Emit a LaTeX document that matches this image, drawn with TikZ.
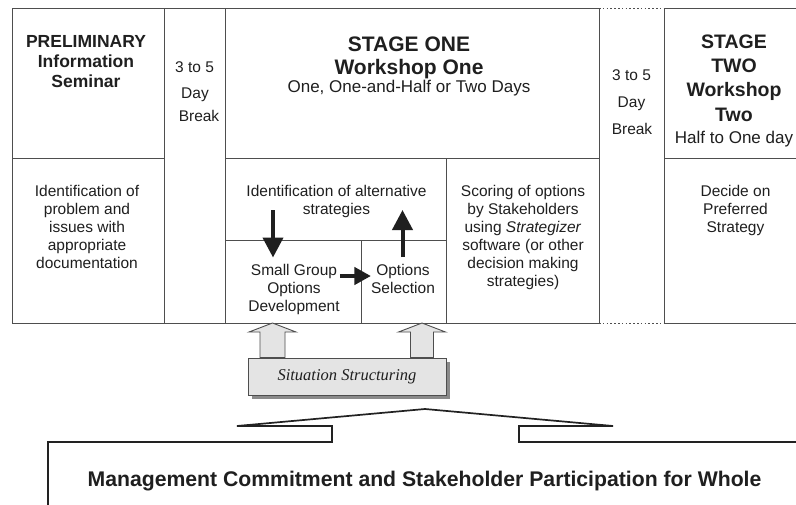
\documentclass[tikz,border=0pt]{standalone}
\usepackage{fontspec}
\setmainfont{Liberation Sans}
\newfontfamily\capfont{Liberation Serif}
\usetikzlibrary{arrows.meta,calc,shadows}

\definecolor{gridline}{HTML}{4E4E4E}
\definecolor{ink}{HTML}{1F1F1F}
\definecolor{roofline}{HTML}{222222}
\definecolor{panelfill}{HTML}{E4E4E4}
\definecolor{panelshadow}{HTML}{8A8A8A}

\newcommand{\setfs}[2]{\fontsize{#1}{#2}\selectfont}

\begin{document}
\begin{tikzpicture}[x=1pt,y=-1pt,
  cell/.style={draw=gridline,line width=1pt,inner sep=0pt,outer sep=0pt,anchor=north west},
  gapcell/.style={inner sep=0pt,outer sep=0pt,anchor=north west},
  titlebig/.style={font=\setfs{21}{24}\bfseries,text=ink,anchor=base,inner sep=0pt},
  titlemid/.style={font=\setfs{19.5}{24}\bfseries,text=ink,anchor=base,inner sep=0pt},
  titlesmall/.style={font=\setfs{17.5}{20}\bfseries,text=ink,anchor=base,inner sep=0pt},
  subtitle/.style={font=\setfs{17}{20},text=ink,anchor=base,inner sep=0pt},
  breaktext/.style={font=\setfs{15.5}{18},text=ink,anchor=base,inner sep=0pt},
  body/.style={font=\setfs{15.5}{18},text=ink,align=center,inner sep=0pt},
  heavy/.style={line width=4pt,draw=ink},
  blockarrow/.style={draw=gridline,line width=0.9pt,fill=panelfill,line join=miter},
  sitbox/.style={draw=gridline,line width=0.9pt,fill=panelfill,inner sep=0pt,
    minimum width=198pt,minimum height=37pt,text=ink,
    font=\capfont\itshape\setfs{16.5}{18},
    drop shadow={shadow xshift=3.5pt,shadow yshift=-3.5pt,fill=panelshadow,opacity=1}},
  roof/.style={draw=roofline,line width=1.7pt},
  mgmt/.style={font=\setfs{21.2}{24}\bfseries,text=ink,anchor=base,inner sep=0pt},
]

\useasboundingbox[fill=white] (0,0) rectangle (796,504);

% ---- grid of phases ----
\node[cell,minimum width=152pt,minimum height=150pt] (prelimHead) at (12,8) {};
\node[cell,minimum width=152pt,minimum height=165pt] (prelimBody) at (12,158) {};
\node[cell,minimum width=61pt,minimum height=315pt] (breakOne) at (164,8) {};
\node[cell,minimum width=374pt,minimum height=150pt] (stageOneHead) at (225,8) {};
\node[cell,minimum width=221pt,minimum height=82pt] (altCell) at (225,158) {};
\node[cell,minimum width=136pt,minimum height=83pt] (groupCell) at (225,240) {};
\node[cell,minimum width=85pt,minimum height=83pt] (selectCell) at (361,240) {};
\node[cell,minimum width=153pt,minimum height=165pt] (scoreCell) at (446,158) {};
\node[gapcell,minimum width=65pt,minimum height=315pt] (breakTwo) at (599,8) {};
\node[cell,minimum width=142pt,minimum height=150pt] (stageTwoHead) at (664,8) {};
\node[cell,minimum width=142pt,minimum height=165pt] (stageTwoBody) at (664,158) {};
\draw[gridline,line width=1pt,dash pattern=on 1.6pt off 2.2pt]
  (breakTwo.north west) -- (breakTwo.north east)
  (breakTwo.south west) -- (breakTwo.south east);

% ---- headings ----
\node[titlesmall] (prelimA) at (86,47) {PRELIMINARY};
\node[titlesmall] (prelimB) at (86,67) {Information};
\node[titlesmall] (prelimC) at (86,87) {Seminar};

\node[breaktext] (brkOneA) at (194.5,72) {3 to 5};
\node[breaktext] (brkOneB) at (195,98.5) {Day};
\node[breaktext] (brkOneC) at (199,121) {Break};

\node[titlebig] (stgOneA) at (409,51) {STAGE ONE};
\node[titlebig] (stgOneB) at (409,74) {Workshop One};
\node[subtitle] (stgOneC) at (409,92.5) {One, One-and-Half or Two Days};

\node[breaktext] (brkTwoA) at (631.5,80) {3 to 5};
\node[breaktext] (brkTwoB) at (631.5,107.5) {Day};
\node[breaktext] (brkTwoC) at (632,134) {Break};

\node[titlemid] (stgTwoA) at (734,48.5) {STAGE};
\node[titlemid] (stgTwoB) at (734,72.5) {TWO};
\node[titlemid] (stgTwoC) at (734,96.5) {Workshop};
\node[titlemid] (stgTwoD) at (734,121) {Two};
\node[subtitle] (stgTwoE) at (734,143.5) {Half to One day};

% ---- activities ----
\node[body] (prelimText) at (87,226.5) {Identification of\\problem and\\issues with\\appropriate\\documentation};
\node[body] (altText) at (336.5,201) {Identification of alternative\\strategies};
\node[body] (groupText) at (294,289) {Small Group\\Options\\Development};
\node[body] (selectText) at (403,278.5) {Options\\Selection};
\node[body] (scoreText) at (523,237.1) {Scoring of options\\by Stakeholders\\using \textit{Strategizer}\\software (or other\\decision making\\strategies)};
\node[body] (decideText) at (735.5,210) {Decide on\\Preferred\\Strategy};

% ---- option cycle ----
\coordinate (dnStart) at (273,210);
\coordinate (dnEnd) at (273,257.5);
\draw[heavy,-{Triangle[length=20pt,width=20pt]}] (dnStart) -- (dnEnd);
\coordinate (upStart) at (402.5,257);
\coordinate (upEnd) at (402.5,210);
\draw[heavy,-{Triangle[length=20pt,width=20pt]}] (upStart) -- (upEnd);
\coordinate (arrowRow) at (0,276);
\draw[heavy,-{Triangle[length=16.5pt,width=17pt]}] (groupText.east |- arrowRow) -- (selectText.west |- arrowRow);

% ---- situation structuring feeding the workshop ----
\node[sitbox] (sitBox) at (347,376.5) {Situation Structuring};
\coordinate (liftL) at (272.5,0 |- sitBox.north);
\coordinate (tipL) at (272.5,0 |- groupCell.south);
\coordinate (liftR) at (422,0 |- sitBox.north);
\coordinate (tipR) at (422,0 |- selectCell.south);
\draw[blockarrow] (tipL) -- ($(tipL)+(23.5,9)$) -- ($(tipL)+(12.5,9)$) -- ($(liftL)+(12.5,0)$)
  -- ($(liftL)+(-12.5,0)$) -- ($(tipL)+(-12.5,9)$) -- ($(tipL)+(-23.5,9)$) -- cycle;
\draw[blockarrow] (tipR) -- ($(tipR)+(23.5,9)$) -- ($(tipR)+(11.5,9)$) -- ($(liftR)+(11.5,0)$)
  -- ($(liftR)+(-11.5,0)$) -- ($(tipR)+(-11.5,9)$) -- ($(tipR)+(-23.5,9)$) -- cycle;

% ---- roofed foundation ----
\draw[roof] (48,512) -- (48,442) -- (332,442) -- (332,426) -- (237,426) -- (425,409)
  -- (613,426) -- (519,426) -- (519,442) -- (806,442);
\node[mgmt] (mgmtText) at (424.5,486.7) {Management Commitment and Stakeholder Participation for Whole};

\end{tikzpicture}
\end{document}
